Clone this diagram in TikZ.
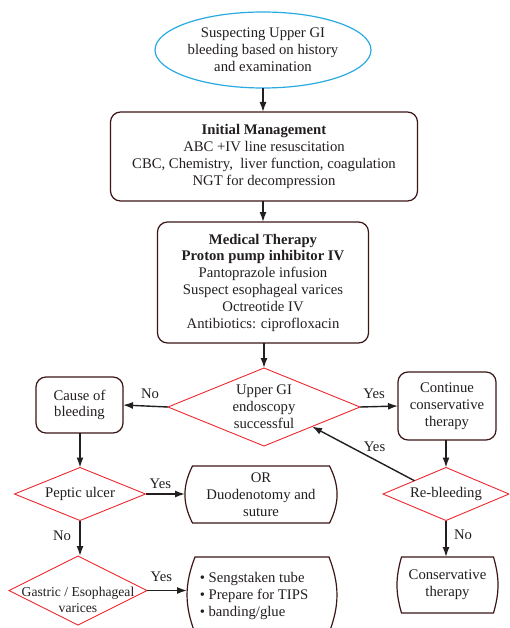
\documentclass[tikz,border=0pt]{standalone}
\usepackage{fontspec}
\setmainfont{Liberation Serif}
\usetikzlibrary{shapes.geometric,arrows.meta}
\definecolor{txt}{RGB}{35,31,32}
\definecolor{boxc}{RGB}{60,22,22}
\definecolor{dred}{RGB}{237,40,48}
\definecolor{cyanb}{RGB}{41,171,226}
% outline with outward-curved sides for a rectangular node: name, inset, bend
\newcommand\cbxoutline[3]{%
  \draw[cline] ([xshift=#2]#1.north west) -- ([xshift=-#2]#1.north east)
    to[bend left=#3] ([xshift=-#2]#1.south east) -- ([xshift=#2]#1.south west)
    to[bend left=#3] cycle;}
\begin{document}
\begin{tikzpicture}[x=1pt,y=-1pt,
  every node/.style={font=\fontsize{14.7}{16.8}\selectfont, text=txt, inner sep=0pt, outer sep=0pt},
  rbox/.style={draw=boxc, line width=1.2pt, rounded corners=10pt, align=center},
  dia/.style={diamond, draw=dred, line width=0.9pt, align=center, aspect=2.4},
  cbox/.style={rectangle, align=center},
  cline/.style={draw=boxc, line width=1.2pt},
  arr/.style={draw=txt, line width=1.4pt, -{Latex[length=10pt,width=7pt]}}
]
\useasboundingbox (0,0) rectangle (509,628);
\fill[white] (0,0) rectangle (509,628);
\clip (0,0) rectangle (509,628);

% nodes
\node[ellipse, draw=cyanb, line width=1.2pt, minimum width=216pt, minimum height=76pt, align=center]
  (start) at (263,50) {Suspecting Upper GI\\bleeding based on history\\and examination};
\node[rbox, minimum width=307pt, minimum height=89pt] (init) at (264,156.5)
  {\textbf{Initial Management}\\ABC +IV line resuscitation\\CBC, Chemistry,\ \ liver function, coagulation\\NGT for decompression};
\node[rbox, minimum width=211pt, minimum height=121pt] (med) at (263,282.5)
  {\textbf{Medical Therapy}\\\textbf{Proton pump inhibitor IV}\\Pantoprazole infusion\\Suspect esophageal varices\\Octreotide IV\\Antibiotics: ciprofloxacin};
\node[dia, minimum width=192pt, minimum height=78pt] (ugi) at (264,407)
  {Upper GI\\endoscopy\\successful};
\node[rbox, minimum width=87pt, minimum height=56pt] (cob) at (79.5,405) {Cause of\\bleeding};
\node[rbox, minimum width=98pt, minimum height=68pt] (cont) at (447,406) {Continue\\conservative\\therapy};
\node[dia, minimum width=131pt, minimum height=53pt] (pep) at (80,494) {Peptic ulcer};
\node[cbox, minimum width=152pt, minimum height=57pt] (orb) at (261,494.5)
  {OR\\Duodenotomy and\\suture};
\node[dia, minimum width=138pt, minimum height=69pt,
  label={[align=center, font=\fontsize{13.6}{16}\selectfont, yshift=-9pt]center:{Gastric / Esophageal\\varices}}]
  (gas) at (78,590.5) {};
\node[cbox, minimum width=150pt, minimum height=76pt,
  label={[align=left, xshift=-8pt, yshift=-1pt]center:{\textbullet\ Sengstaken tube\\\textbullet\ Prepare for TIPS\\\textbullet\ banding/glue}}]
  (bul) at (262,595) {};
\node[dia, minimum width=126pt, minimum height=53pt] (reb) at (446,494) {Re-bleeding};
\node[cbox, minimum width=101pt, minimum height=56pt] (cons) at (447.5,585)
  {Conservative\\therapy};

\cbxoutline{orb}{7.5pt}{27}
\cbxoutline{bul}{8pt}{21}
\cbxoutline{cons}{4.5pt}{16}

% connectors
\draw[arr] (start.south) -- (start.south |- init.north);
\draw[arr] (med.north |- init.south) -- (med.north);
\draw[arr] (ugi.north |- med.south) -- (ugi.north);
\draw[arr] (ugi.west) -- (cob.east) node[pos=0.4, yshift=12pt] {No};
\draw[arr] (ugi.east) -- (cont.west) node[pos=0.37, yshift=13pt] {Yes};
\draw[arr] (cob.south -| pep.north) -- (pep.north);
\draw[arr] (pep.east) -- (pep.east -| orb.west) node[pos=0.375, yshift=10pt] {Yes};
\draw[arr] (pep.south) -- (pep.south |- gas.north) node[pos=0.43, xshift=-18pt] {No};
\draw[arr] (gas.east) -- (gas.east -| bul.west) node[pos=0.36, yshift=14pt] {Yes};
\draw[arr] (cont.south -| reb.north) -- (reb.north);
\draw[arr] (reb.north west) -- (ugi.south east) node[pos=0.39, yshift=13pt] {Yes};
\draw[arr] (reb.south) -- (reb.south |- cons.north) node[pos=0.39, xshift=17pt] {No};
\end{tikzpicture}
\end{document}
